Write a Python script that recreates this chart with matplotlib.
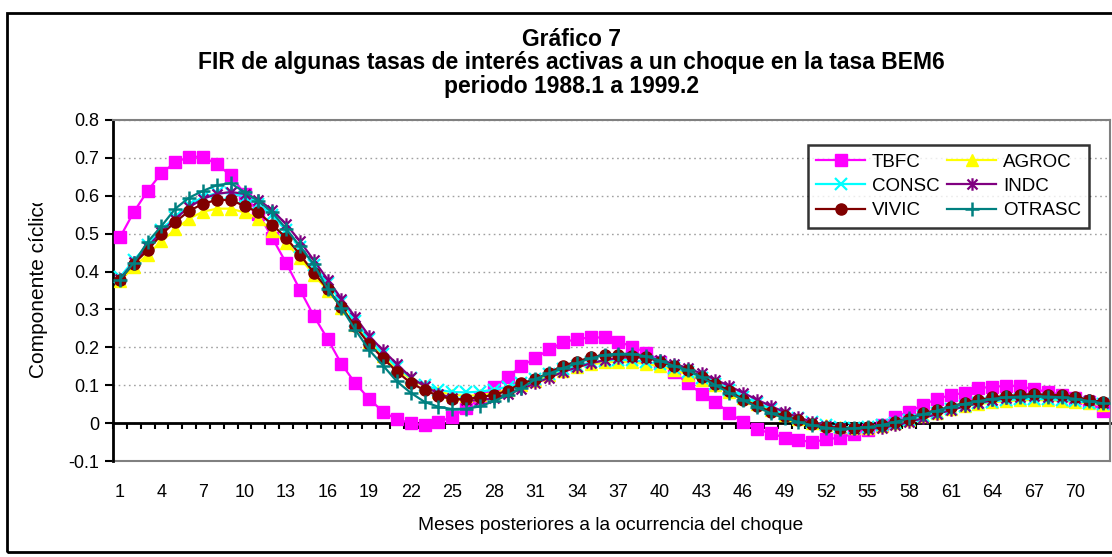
import matplotlib
matplotlib.use("Agg")
import matplotlib.pyplot as plt
from matplotlib.patches import Rectangle
from matplotlib.path import Path
from matplotlib.transforms import Bbox, TransformedBbox
import numpy as np

plt.rcParams['font.family'] = ['Liberation Sans', 'DejaVu Sans']

months = list(range(1, 73))
xtick_labels = [str(m) for m in range(1, 73, 3)]

tbfc = [0.49, 0.557, 0.613, 0.66, 0.688, 0.703, 0.703, 0.683, 0.654, 0.605,
        0.553, 0.489, 0.423, 0.352, 0.283, 0.222, 0.156, 0.105, 0.064, 0.03,
        0.01, 0.0, -0.006, 0.002, 0.017, 0.039, 0.066, 0.095, 0.121, 0.151,
        0.171, 0.195, 0.213, 0.222, 0.226, 0.226, 0.215, 0.202, 0.186, 0.162,
        0.135, 0.105, 0.078, 0.056, 0.027, 0.003, -0.016, -0.027, -0.038, -0.045,
        -0.05, -0.043, -0.038, -0.028, -0.017, -0.005, 0.017, 0.03, 0.048, 0.064,
        0.074, 0.08, 0.092, 0.096, 0.098, 0.098, 0.089, 0.083, 0.074, 0.065,
        0.055, 0.032]
agroc = [0.375, 0.412, 0.445, 0.48, 0.511, 0.54, 0.558, 0.566, 0.566, 0.556,
         0.54, 0.507, 0.476, 0.436, 0.392, 0.35, 0.305, 0.258, 0.215, 0.178,
         0.144, 0.116, 0.097, 0.083, 0.075, 0.072, 0.074, 0.079, 0.088, 0.1,
         0.112, 0.126, 0.138, 0.148, 0.155, 0.16, 0.162, 0.16, 0.156, 0.15,
         0.14, 0.128, 0.114, 0.1, 0.083, 0.066, 0.05, 0.035, 0.022, 0.011,
         0.001, -0.006, -0.011, -0.013, -0.012, -0.008, -0.001, 0.008, 0.018, 0.027,
         0.036, 0.044, 0.05, 0.055, 0.058, 0.06, 0.061, 0.06, 0.059, 0.056,
         0.052, 0.048]
consc = [0.385, 0.43, 0.47, 0.51, 0.545, 0.575, 0.597, 0.607, 0.607, 0.598,
         0.578, 0.548, 0.51, 0.466, 0.418, 0.37, 0.32, 0.27, 0.222, 0.183,
         0.148, 0.12, 0.1, 0.088, 0.082, 0.081, 0.083, 0.088, 0.096, 0.106,
         0.117, 0.13, 0.142, 0.152, 0.16, 0.165, 0.167, 0.166, 0.162, 0.156,
         0.146, 0.135, 0.12, 0.104, 0.087, 0.07, 0.054, 0.038, 0.025, 0.013,
         0.003, -0.005, -0.01, -0.012, -0.01, -0.006, 0.001, 0.009, 0.019, 0.028,
         0.037, 0.045, 0.052, 0.057, 0.061, 0.063, 0.064, 0.063, 0.061, 0.058,
         0.054, 0.05]
indc = [0.38, 0.425, 0.465, 0.505, 0.54, 0.57, 0.592, 0.605, 0.61, 0.605,
        0.59, 0.562, 0.525, 0.48, 0.43, 0.379, 0.328, 0.28, 0.23, 0.192,
        0.156, 0.121, 0.097, 0.078, 0.066, 0.06, 0.06, 0.066, 0.076, 0.09,
        0.105, 0.12, 0.135, 0.147, 0.158, 0.166, 0.172, 0.174, 0.172, 0.166,
        0.157, 0.145, 0.131, 0.115, 0.098, 0.08, 0.062, 0.045, 0.029, 0.015,
        0.003, -0.007, -0.013, -0.016, -0.016, -0.012, -0.006, 0.003, 0.013, 0.024,
        0.034, 0.044, 0.053, 0.06, 0.066, 0.069, 0.071, 0.07, 0.068, 0.065,
        0.06, 0.054]
vivic = [0.379, 0.421, 0.456, 0.498, 0.531, 0.56, 0.579, 0.589, 0.589, 0.573,
         0.556, 0.524, 0.489, 0.445, 0.397, 0.354, 0.306, 0.255, 0.209, 0.171,
         0.136, 0.106, 0.087, 0.072, 0.063, 0.063, 0.069, 0.074, 0.086, 0.105,
         0.116, 0.133, 0.152, 0.162, 0.174, 0.18, 0.18, 0.176, 0.174, 0.162,
         0.151, 0.139, 0.123, 0.104, 0.086, 0.062, 0.046, 0.03, 0.019, 0.008,
         -0.003, -0.01, -0.014, -0.014, -0.01, -0.004, 0.003, 0.012, 0.026, 0.034,
         0.043, 0.054, 0.061, 0.068, 0.072, 0.074, 0.077, 0.074, 0.074, 0.07,
         0.061, 0.056]
otrasc = [0.379, 0.423, 0.478, 0.52, 0.566, 0.595, 0.613, 0.628, 0.633, 0.61,
          0.586, 0.556, 0.513, 0.467, 0.419, 0.354, 0.304, 0.246, 0.193, 0.152,
          0.11, 0.08, 0.056, 0.043, 0.037, 0.038, 0.044, 0.058, 0.074, 0.092,
          0.116, 0.131, 0.145, 0.158, 0.171, 0.18, 0.183, 0.183, 0.176, 0.165,
          0.151, 0.14, 0.121, 0.1, 0.08, 0.061, 0.042, 0.026, 0.013, 0.003,
          -0.006, -0.012, -0.015, -0.014, -0.011, -0.005, 0.003, 0.013, 0.023, 0.033,
          0.043, 0.051, 0.058, 0.064, 0.068, 0.07, 0.071, 0.07, 0.068, 0.064,
          0.058, 0.052]

W, H = 1112, 557
fig = plt.figure(figsize=(W / 100, H / 100), dpi=100)
fig.patch.set_facecolor('white')

def fx(px):
    return px / W

def fy(py):
    return 1 - py / H

ax = fig.add_axes([fx(113), fy(461), fx(1110) - fx(113), fy(120) - fy(461)])

# asterisk marker: x plus vertical bar
star_verts = [(-1, -1), (1, 1), (-1, 1), (1, -1), (0, -1.25), (0, 1.25)]
star_codes = [Path.MOVETO, Path.LINETO, Path.MOVETO, Path.LINETO, Path.MOVETO, Path.LINETO]
star_marker = Path(star_verts, star_codes)

series = [
    ('TBFC', tbfc, '#FF00FF', 's', 8.5, {}),
    ('AGROC', agroc, '#FFFF00', '^', 9, {}),
    ('CONSC', consc, '#00FFFF', 'x', 8, {'markeredgewidth': 1.6}),
    ('INDC', indc, '#800080', star_marker, 9, {'markeredgewidth': 1.6}),
    ('VIVIC', vivic, '#800000', 'o', 8, {}),
    ('OTRASC', otrasc, '#008080', '+', 10, {'markeredgewidth': 1.8}),
]
handles = {}
for name, vals, col, mk, ms, kw in series:
    ln, = ax.plot(months, vals, color=col, lw=1.6, marker=mk, markersize=ms,
                  markerfacecolor=col, markeredgecolor=col, label=name,
                  clip_on=False, zorder=3, **kw)
    handles[name] = ln

ax.set_xlim(0.5, 72.5)
ax.set_ylim(-0.1, 0.8)
ax.set_yticks(np.arange(-0.1, 0.81, 0.1))
ax.set_yticklabels(['-0.1', '0', '0.1', '0.2', '0.3', '0.4', '0.5', '0.6', '0.7', '0.8'])
ax.yaxis.grid(True, linestyle=(0, (1.2, 2.5)), color='#a0a0a0', linewidth=1.0)
ax.set_axisbelow(True)

# spines
ax.spines['top'].set_color('#808080')
ax.spines['right'].set_color('#808080')
ax.spines['top'].set_linewidth(1.5)
ax.spines['right'].set_linewidth(1.5)
ax.spines['left'].set_color('black')
ax.spines['left'].set_linewidth(2)
ax.spines['bottom'].set_position(('data', 0))
ax.spines['bottom'].set_color('black')
ax.spines['bottom'].set_linewidth(2)
ax.spines['bottom'].set_zorder(2)
ax.plot([0, 1], [0, 0], transform=ax.transAxes, color='#808080', lw=1.5,
        clip_on=False, zorder=2)

ax.set_xticks(range(1, 73, 3))
ax.set_xticklabels(xtick_labels, fontsize=13)
ax.set_xticks(np.arange(0.5, 73, 1), minor=True)
ax.tick_params(axis='x', which='major', length=0, pad=44)
ax.tick_params(axis='x', which='minor', length=4, width=1.5, direction='out', color='black')
ax.tick_params(axis='y', which='major', length=6, width=1.5, direction='out', labelsize=13, pad=4)

# y label, clipped like the original
ylab = fig.text(fx(39), fy(378), 'Componente cíclico', rotation=90, ha='center', va='bottom',
                fontsize=15)
clip_bb = TransformedBbox(Bbox([[0, fy(400)], [fx(110), fy(203)]]), fig.transFigure)
ylab.set_clip_box(clip_bb)
ylab.set_clip_on(True)

fig.text(fx(611), fy(526), 'Meses posteriores a la ocurrencia del choque', ha='center',
         va='center', fontsize=13.8)

fig.text(fx(571), fy(39), 'Gráfico 7', ha='center', va='center', fontsize=16.5, fontweight='bold')
fig.text(fx(571), fy(62), 'FIR de algunas tasas de interés activas a un choque en la tasa BEM6',
         ha='center', va='center', fontsize=16.5, fontweight='bold')
fig.text(fx(571), fy(86), 'periodo 1988.1 a 1999.2', ha='center', va='center', fontsize=16.5,
         fontweight='bold')

order = ['TBFC', 'CONSC', 'VIVIC', 'AGROC', 'INDC', 'OTRASC']
leg = fig.legend([handles[n] for n in order], order, ncol=2, loc='upper left',
                 bbox_to_anchor=(fx(808), fy(145)), frameon=True, fancybox=False,
                 edgecolor='black', fontsize=13.5, handlelength=2.6, handletextpad=0.37,
                 columnspacing=0.4, labelspacing=0.38, borderpad=0.45, borderaxespad=0)
leg.get_frame().set_linewidth(1.8)

# outer chart border
fig.add_artist(Rectangle((fx(7), fy(552)), 1.05, fy(13) - fy(552), transform=fig.transFigure,
                         fill=False, edgecolor='black', linewidth=2))

fig.savefig('out.png', dpi=100)
